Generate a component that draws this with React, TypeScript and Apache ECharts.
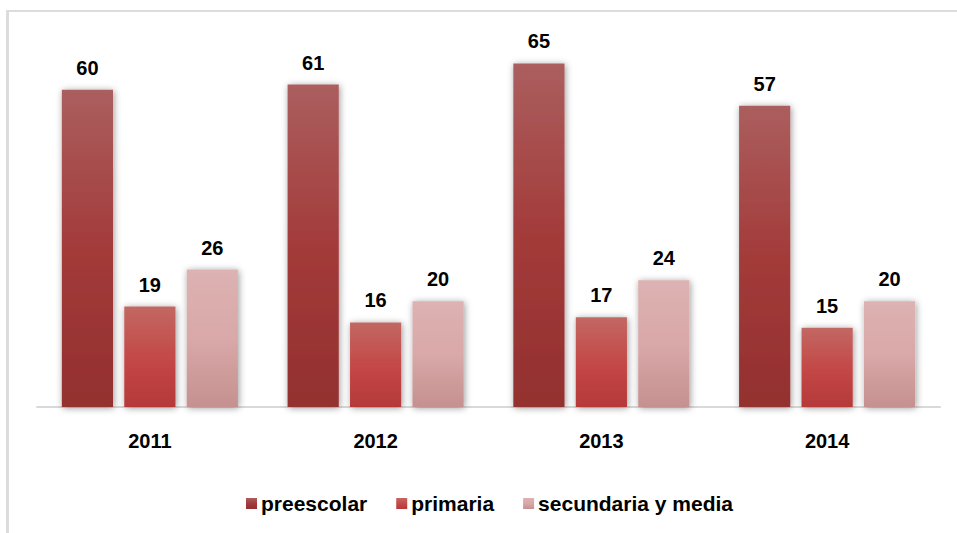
import React, { useEffect, useRef } from "react";
import * as echarts from "echarts";

const categories = ["2011", "2012", "2013", "2014"];
const seriesNames = ["preescolar", "primaria", "secundaria y media"];
const preescolar = [60, 61, 65, 57];
const primaria = [19, 16, 17, 15];
const secundaria = [26, 20, 24, 20];

const FONT = "'Liberation Sans', Arial, sans-serif";

function grad(stops: [number, string][]) {
  return new echarts.graphic.LinearGradient(
    0, 0, 0, 1,
    stops.map(([offset, color]) => ({ offset, color }))
  );
}

export default function App() {
  const ref = useRef<HTMLDivElement>(null);
  useEffect(() => {
    if (!ref.current) return;
    const chart = echarts.init(ref.current, undefined, { renderer: "svg" });
    const fills = [
      grad([[0, "#AB5E5E"], [0.5, "#A33B3A"], [1, "#93302F"]]),
      grad([[0, "#C26863"], [0.55, "#C44646"], [1, "#B53939"]]),
      grad([[0, "#DDB2B2"], [0.5, "#D9A8A8"], [1, "#C59090"]]),
    ];
    const datasets = [preescolar, primaria, secundaria];
    const barStyle = {
      shadowColor: "rgba(0,0,0,0.4)",
      shadowBlur: 7,
      shadowOffsetX: 1,
      shadowOffsetY: 1,
    };
    chart.setOption({
      animation: false,
      textStyle: { fontFamily: FONT },
      graphic: [
        {
          type: "line",
          shape: { x1: 7.5, y1: 10, x2: 7.5, y2: 533 },
          style: { stroke: "#dcdcdc", lineWidth: 3 },
          silent: true,
        },
        {
          type: "line",
          shape: { x1: 6, y1: 11, x2: 957, y2: 11 },
          style: { stroke: "#dcdcdc", lineWidth: 2 },
          silent: true,
        },
      ],
      grid: { left: 37, right: 17, top: 37, bottom: 126, containLabel: false },
      legend: {
        data: seriesNames,
        left: 246,
        top: 493,
        padding: 0,
        icon: "rect",
        itemWidth: 11,
        itemHeight: 11,
        itemGap: 29,
        textStyle: {
          fontFamily: FONT,
          fontWeight: "bold",
          fontSize: 21,
          color: "#000",
          padding: [0, 0, 0, -1],
        },
      },
      xAxis: {
        type: "category",
        data: categories,
        axisLine: { show: true, lineStyle: { color: "#d9d9d9", width: 2 } },
        axisTick: { show: false },
        axisLabel: {
          fontFamily: FONT,
          fontWeight: "bold",
          fontSize: 20,
          color: "#000",
          margin: 24,
        },
      },
      yAxis: {
        type: "value",
        min: 0,
        max: 70,
        show: false,
        splitLine: { show: false },
      },
      series: seriesNames.map((name, i) => ({
        name,
        type: "bar",
        data: datasets[i],
        barGap: "22%",
        barCategoryGap: "22%",
        itemStyle: { color: fills[i], ...barStyle },
        label: {
          show: true,
          position: "top",
          distance: 12,
          fontFamily: FONT,
          fontWeight: "bold",
          fontSize: 20,
          color: "#000",
        },
      })),
    });
    return () => chart.dispose();
  }, []);
  return (
    <div
      ref={ref}
      style={{
        position: "absolute",
        left: 0,
        top: 0,
        width: 957,
        height: 533,
        background: "#fff",
      }}
    />
  );
}
